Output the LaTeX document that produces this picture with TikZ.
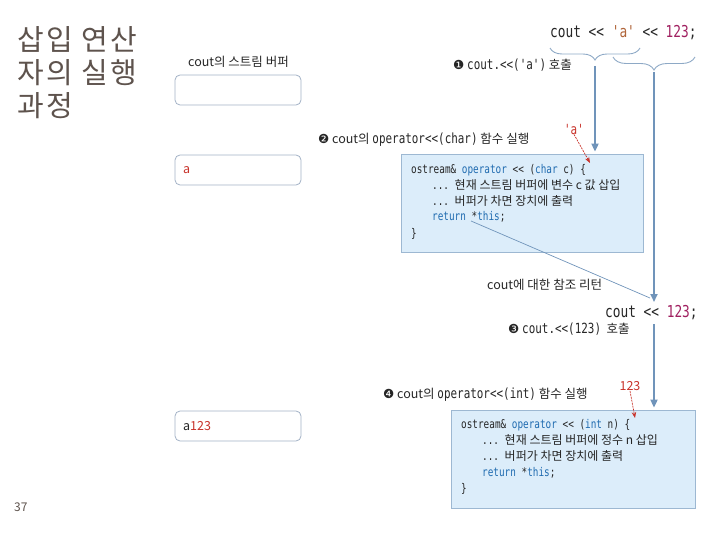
\documentclass[tikz,border=0pt]{standalone}
\usepackage{fontspec}
\setmainfont{Noto Sans CJK KR}
\newfontfamily\kr{Noto Sans CJK KR}
\newfontfamily\krtitle{Noto Sans CJK KR}[LetterSpace=8]
\setmonofont{DejaVu Sans Mono}[FakeStretch=0.78]
\newfontfamily\sym{DejaVu Sans}
\usetikzlibrary{arrows.meta,decorations.pathreplacing}
\definecolor{ttl}{HTML}{5E534D}
\definecolor{flow}{HTML}{7094BA}
\definecolor{brc}{HTML}{8EA9C6}
\definecolor{redc}{HTML}{C8322A}
\definecolor{kwb}{HTML}{1F6BB0}
\definecolor{chr}{HTML}{B0653A}
\definecolor{num}{HTML}{A02060}
\definecolor{boxfill}{HTML}{DCEDFA}
\definecolor{boxline}{HTML}{9DB8D2}
\definecolor{bufline}{HTML}{A3B2C6}
\definecolor{txt}{HTML}{262626}
\newcommand\kw[1]{\textcolor{kwb}{#1}}
\newcommand\krc{\kr\fontsize{12}{14}\selectfont}
\newcommand\lcode[1]{{\ttfamily\fontsize{14}{15}\selectfont #1}}
\begin{document}
\begin{tikzpicture}[x=1pt,y=-1pt,
  titletext/.style={anchor=base west, inner sep=0, text=ttl, font=\krtitle\fontsize{29}{34}\selectfont},
  lbl/.style={anchor=west, inner sep=0, text=txt, font=\fontsize{12.5}{14}\selectfont},
  cl/.style={anchor=base west, inner sep=0, text=txt, font=\ttfamily\fontsize{12}{14}\selectfont},
  bigcode/.style={anchor=base west, inner sep=0, text=txt, font=\ttfamily\fontsize{16.4}{19}\selectfont},
  bufbox/.style={draw=bufline, rounded corners=5pt, fill=white, minimum width=126pt, minimum height=30pt, inner sep=0, line width=0.8pt},
  codebox/.style={draw=boxline, fill=boxfill, inner sep=0, line width=0.8pt},
  flowarrow/.style={draw=flow, line width=1.8pt, -{Triangle[width=7pt,length=8pt]}},
  thinflow/.style={draw=flow, line width=0.7pt},
  redarrow/.style={draw=redc, line width=0.7pt, dash pattern=on 2pt off 1pt, -{Stealth[width=4.5pt,length=6pt]}},
  bracestyle/.style={draw=brc, line width=0.9pt, decorate, decoration={brace, mirror, amplitude=#1}}
]
\useasboundingbox (0,0) rectangle (720,540);

% title
\node[titletext] (t1) at (17,51) {삽입 연산};
\node[titletext] (t2) at (17,84) {자의 실행};
\node[titletext] (t3) at (17,117) {과정};
\node[anchor=west, inner sep=0, text=ttl, font=\fontsize{12}{14}\selectfont] (pg) at (14,507) {37};

% stream buffers
\node[lbl] (bufttl) at (188,62) {cout의 스트림 버퍼};
\node[bufbox] (buf1) at (238,90) {};
\node[bufbox] (buf2) at (238,170) {};
\node[bufbox] (buf3) at (238,426) {};
\node[lbl, text=redc] (bufa) at (183,170) {a};
\node[lbl] (bufa123) at (183,426) {a\textcolor{redc}{123}};

% top statement and braces
\node[bigcode] (top) at (550,38) {cout << \textcolor{chr}{'a'} << \textcolor{num}{123};};
\draw[bracestyle=12pt] (550,48) -- (640,48);
\draw[bracestyle=13pt] (613,57) -- (695,57);
\node[lbl] (s1) at (453,65) {{\sym ❶} \lcode{cout.<<('a')} 호출};

% code box 1
\node[codebox, minimum width=242pt, minimum height=98pt] (cb1) at (522,203) {};
\node[lbl] (s2) at (318,140) {{\sym ❷} cout의 \lcode{operator<<(char)} 함수 실행};
\node[cl] (l11) at (411,174) {ostream\& \kw{operator} << (\kw{char} c) \{};
\node[cl] (l12) at (432,190) {... {\krc 현재 스트림 버퍼에 변수 c 값 삽입}};
\node[cl] (l13) at (432,206) {... {\krc 버퍼가 차면 장치에 출력}};
\node[cl] (l14) at (432,221) {\kw{return} *\kw{this};};
\node[cl] (l15) at (411,237) {\}};
\node[lbl, anchor=center, text=redc] (qa) at (574,129) {\lcode{'a'}};
\coordinate (ctgt) at (590,163);
\draw[redarrow] (qa.south) -- (ctgt);

% return
\node[lbl] (ret) at (487,285) {cout에 대한 참조 리턴};
\node[bigcode] (c123) at (605,317) {cout << \textcolor{num}{123};};
\node[lbl] (s3) at (508,329) {{\sym ❸} \lcode{cout.<<(123)}\ \ 호출};

% code box 2
\node[codebox, minimum width=244pt, minimum height=98pt] (cb2) at (573,459) {};
\node[lbl] (s4) at (383,395) {{\sym ❹} cout의 \lcode{operator<<(int)} 함수 실행};
\node[cl] (l21) at (461,428) {ostream\& \kw{operator} << (\kw{int} n) \{};
\node[cl] (l22) at (482,444) {... {\krc 현재 스트림 버퍼에 정수 n 삽입}};
\node[cl] (l23) at (482,460) {... {\krc 버퍼가 차면 장치에 출력}};
\node[cl] (l24) at (482,476) {\kw{return} *\kw{this};};
\node[cl] (l25) at (461,492) {\}};
\node[lbl, anchor=center, text=redc] (n123) at (630,386) {123};
\coordinate (ntgt) at (635,418);
\draw[redarrow] (n123.south) -- (ntgt);

% flow arrows
\coordinate (b1tip) at (595,66);
\draw[flowarrow, shorten >=2pt] (b1tip) -- (b1tip |- cb1.north);
\coordinate (b2tip) at (654,72);
\coordinate (join) at (654,302);
\draw[flowarrow] (b2tip) -- (join);
\coordinate (retpt) at (471,221);
\coordinate (retend) at (650,298);
\draw[thinflow] (retpt) -- (retend);
\coordinate (b3start) at (654,324);
\draw[flowarrow, shorten >=2pt] (b3start) -- (b3start |- cb2.north);
\end{tikzpicture}
\end{document}
